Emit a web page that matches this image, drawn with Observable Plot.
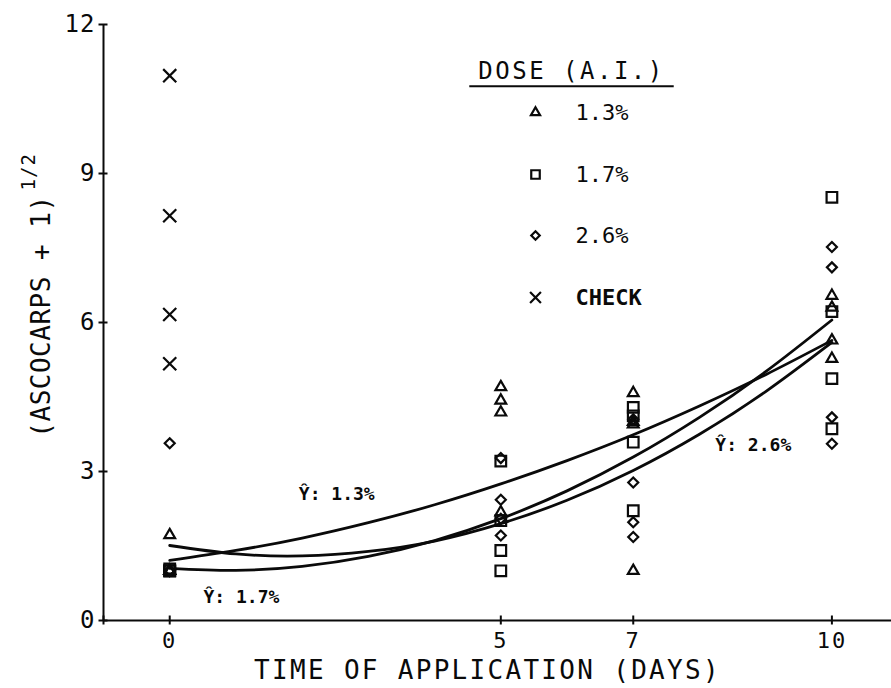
<!DOCTYPE html>
<html>
<head>
<meta charset="utf-8">
<script src="https://cdn.jsdelivr.net/npm/d3@7"></script>
<script src="https://cdn.jsdelivr.net/npm/@observablehq/plot@0.6"></script>
<style>
  body { margin: 0; background: #fff; }
  #chart { width: 891px; height: 688px; }
  g[aria-description="x-tick-labels"] text { letter-spacing: 2px; }
  g[aria-description="y-tick-labels"] text { letter-spacing: 1px; }
  g[aria-description="x-title"] text { letter-spacing: 2.3px; }
  g[aria-description="y-title"] text { letter-spacing: 0.5px; }
  g[aria-description="y-title-sup"] text { letter-spacing: 1px; }
  g[aria-description="legend-title"] text { letter-spacing: 2.5px; }
</style>
</head>
<body>
<div id="chart"></div>
<script>
// ---- data ----
// [day, (ascocarps + 1)^1/2]
const dose13 = [[0,1.72],[0,1.0],[0,1.0],[0,1.0],
                [5,4.70],[5,4.43],[5,4.19],[5,2.18],
                [7,4.58],[7,4.00],[7,3.95],[7,1.0],
                [10,6.54],[10,6.30],[10,5.64],[10,5.27]];
const dose17 = [[0,1.0],[0,1.0],[0,1.0],[0,1.04],
                [5,3.21],[5,2.01],[5,1.41],[5,1.0],
                [7,4.29],[7,4.12],[7,3.59],[7,2.21],
                [10,8.52],[10,6.22],[10,4.87],[10,3.86]];
const dose26 = [[0,3.57],[0,1.0],[0,1.0],[0,1.0],
                [5,3.27],[5,2.43],[5,2.05],[5,1.71],
                [7,4.05],[7,2.78],[7,1.98],[7,1.68],
                [10,7.52],[10,7.11],[10,4.09],[10,3.56]];
const checkPlot = [[0,10.97],[0,8.15],[0,6.16],[0,5.17]];

// fitted regression curves, read at each day
const fitDays = [0,1,2,3,4,5,6,7,8,9,10];
const fit13 = [1.21,1.41,1.66,1.97,2.33,2.75,3.22,3.74,4.32,4.95,5.64];
const fit17 = [1.05,1.01,1.09,1.29,1.61,2.05,2.61,3.29,4.09,5.01,6.05];
const fit26 = [1.51,1.34,1.30,1.39,1.60,1.95,2.42,3.02,3.75,4.61,5.60];

const curveLabels = [
  {x: 1.95, y: 2.42, label: "Ŷ: 1.3%"},
  {x: 0.51, y: 0.36, label: "Ŷ: 1.7%"},
  {x: 8.24, y: 3.42, label: "Ŷ: 2.6%"}
];

const xDomain = [-1, 10.9];
const yDomain = [0, 12];
const xTicks = [0, 5, 7, 10];
const xTickMarks = [-1, 0, 5, 7, 10];
const xTickLabels = ["0", "5", "7", "10"];
const yTicks = [0, 3, 6, 9, 12];
const yTickLabels = ["0", "3", "6", "9", "12"];

const legendTitle = "DOSE (A.I.)";
const legendItems = [
  {label: "1.3%", symbol: "triangle", r: 3.4},
  {label: "1.7%", symbol: "square", r: 4.8},
  {label: "2.6%", symbol: "diamond2", r: 3.8},
  {label: "CHECK", symbol: "times", r: 5}
];
const xTitle = "TIME OF APPLICATION (DAYS)";
const yTitle = "(ASCOCARPS + 1)";
const yTitleSup = "1/2";

// ---- drawing ----
const ink = "#0a0a0a";
const mono = "DejaVu Sans Mono";
const legendRowsDy = [88, 150, 211, 273];

const pts = (data, symbol, r) => Plot.dot(data, {
  x: d => d[0], y: d => d[1], symbol, r,
  stroke: ink, strokeWidth: 2.2, fill: "none"
});
const fitLine = (vals) => Plot.line(fitDays, {
  x: d => d, y: (d, i) => vals[i], curve: "natural",
  stroke: ink, strokeWidth: 2.8
});

const legendMarks = legendItems.flatMap((it, i) => [
  Plot.dot([it], {frameAnchor: "top-left", dx: 432, dy: legendRowsDy[i],
    symbol: it.symbol, r: it.r, stroke: ink, strokeWidth: 2.2, fill: "none"}),
  Plot.text([it], {frameAnchor: "top-left", dx: 472, dy: legendRowsDy[i],
    text: d => d.label, textAnchor: "start", lineAnchor: "middle",
    fontSize: 22, fontWeight: it.label === "CHECK" ? "bold" : "normal", fill: ink})
]);

const chart = Plot.plot({
  width: 891, height: 688,
  marginTop: 24, marginBottom: 68, marginLeft: 103, marginRight: 0,
  x: {domain: xDomain},
  y: {domain: yDomain},
  style: {fontFamily: mono, color: ink, background: "#fff", overflow: "visible"},
  marks: [
    // axes
    Plot.ruleY([yDomain[0]], {stroke: ink, strokeWidth: 2}),
    Plot.ruleX([xDomain[0]], {stroke: ink, strokeWidth: 2}),
    Plot.axisX(xTickMarks, {tickSize: 9, dy: -4.5, tickFormat: () => "", label: null, stroke: ink, strokeWidth: 2}),
    Plot.axisY(yTicks, {tickSize: 9, dx: 4.5, tickFormat: () => "", label: null, stroke: ink, strokeWidth: 2}),
    Plot.text(xTicks, {x: d => d, frameAnchor: "bottom", dy: 20, lineAnchor: "middle",
      text: (d, i) => xTickLabels[i], fontSize: 22, fill: ink, ariaDescription: "x-tick-labels"}),
    Plot.text(yTicks, {y: d => d, frameAnchor: "left", dx: -8, text: (d, i) => yTickLabels[i],
      textAnchor: "end", lineAnchor: "middle", fontSize: 24, fill: ink, ariaDescription: "y-tick-labels"}),
    Plot.text([xTitle], {frameAnchor: "bottom", dx: -10, dy: 50, lineAnchor: "middle", textAnchor: "middle",
      text: d => d, fontSize: 26, fill: ink, ariaDescription: "x-title"}),
    Plot.text([yTitle], {frameAnchor: "left", dx: -62, dy: -6, rotate: -90, text: d => d,
      textAnchor: "middle", lineAnchor: "middle", fontSize: 26, fill: ink, ariaDescription: "y-title"}),
    Plot.text([yTitleSup], {frameAnchor: "left", dx: -75, dy: -132, rotate: -90, text: d => d,
      textAnchor: "start", lineAnchor: "middle", fontSize: 19, fill: ink, ariaDescription: "y-title-sup"}),
    // fitted curves
    fitLine(fit13),
    fitLine(fit17),
    fitLine(fit26),
    Plot.text(curveLabels, {x: "x", y: "y", text: "label", textAnchor: "start", lineAnchor: "bottom",
      fontSize: 18, fontWeight: "bold", fill: ink}),
    // observations
    pts(dose13, "triangle", 4.0),
    pts(dose17, "square", 6.0),
    pts(dose26, "diamond2", 4.5),
    pts(checkPlot, "times", 6.0),
    // legend
    Plot.text([legendTitle], {frameAnchor: "top-left", dx: 468, dy: 47, text: d => d,
      textAnchor: "middle", lineAnchor: "middle",
      fontSize: 24, fill: ink, ariaDescription: "legend-title"}),
    ...legendMarks
  ]
});

document.getElementById("chart").appendChild(chart);

// drop the empty tick-label texts of the tick-only axes
chart.querySelectorAll("text").forEach(el => { if (!el.textContent.trim()) el.remove(); });

// underline for the legend title
const t = chart.querySelector('g[aria-description="legend-title"] text');
if (t) {
  const sr = chart.getBoundingClientRect();
  const br = t.getBoundingClientRect();
  d3.select(chart).append("line")
    .attr("x1", br.left - sr.left - 9).attr("x2", br.right - sr.left + 9)
    .attr("y1", br.bottom - sr.top + 1).attr("y2", br.bottom - sr.top + 1)
    .attr("stroke", ink).attr("stroke-width", 2);
}
</script>
</body>
</html>
